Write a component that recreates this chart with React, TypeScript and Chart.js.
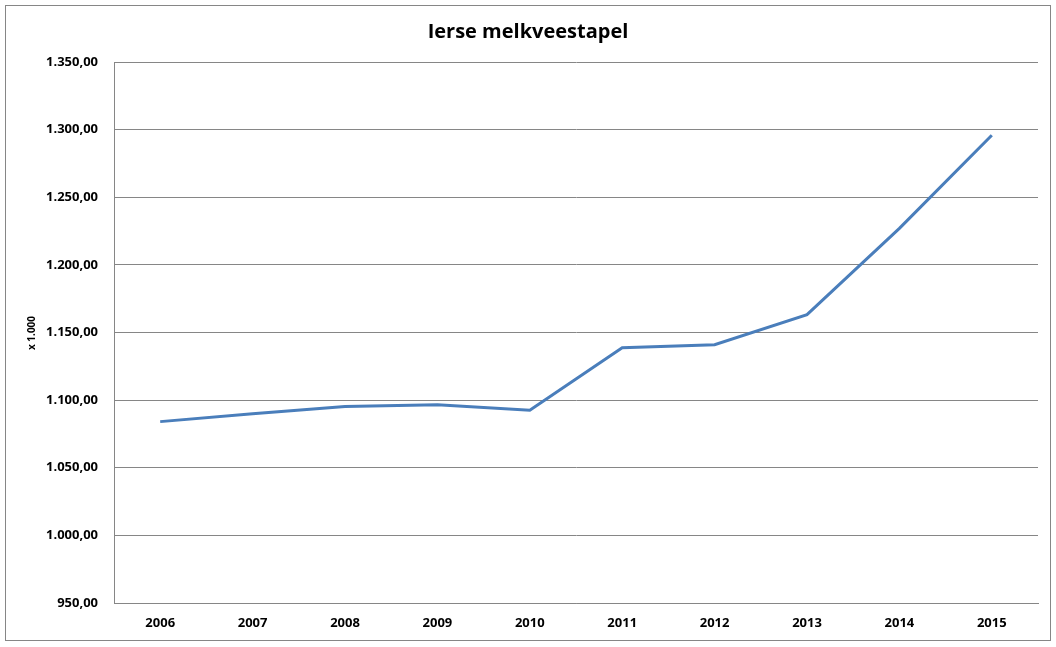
import React, { useEffect, useRef } from "react";
import { Chart, registerables } from "chart.js";

Chart.register(...registerables);

const years = ["2006", "2007", "2008", "2009", "2010", "2011", "2012", "2013", "2014", "2015"];
const herd = [1084.1, 1089.9, 1095.3, 1096.5, 1092.6, 1138.7, 1141.0, 1163.2, 1227.0, 1295.8];
const chartTitle = "Ierse melkveestapel";
const yAxisLabel = "x 1.000";

const FONT = "'Open Sans', 'Liberation Sans', sans-serif";
const GRID = "#868686";

function formatNl(v: number): string {
  const fixed = v.toFixed(2);
  const [intPart, dec] = fixed.split(".");
  const withDots = intPart.replace(/\B(?=(\d{3})+(?!\d))/g, ".");
  return withDots + "," + dec;
}

const framePlugin = {
  id: "frame",
  beforeDraw(chart: any) {
    const ctx = chart.ctx;
    ctx.save();
    ctx.fillStyle = "#ffffff";
    ctx.fillRect(0, 0, chart.width, chart.height);
    ctx.strokeStyle = GRID;
    ctx.lineWidth = 1;
    ctx.strokeRect(5.5, 5.5, chart.width - 11, chart.height - 12);
    ctx.restore();
  },
  afterDraw(chart: any) {
    const ctx = chart.ctx;
    ctx.save();
    ctx.translate(32, 333);
    ctx.rotate(-Math.PI / 2);
    ctx.font = "bold 10px " + FONT;
    ctx.fillStyle = "#000";
    ctx.textAlign = "center";
    ctx.textBaseline = "middle";
    ctx.fillText(yAxisLabel, 0, 0);
    ctx.restore();
  },
};

export default function App() {
  const ref = useRef<HTMLCanvasElement | null>(null);
  useEffect(() => {
    if (!ref.current) return;
    const chart = new Chart(ref.current, {
      type: "line",
      data: {
        labels: years,
        datasets: [
          {
            data: herd,
            borderColor: "#4a7ebb",
            borderWidth: 3,
            pointRadius: 0,
            tension: 0,
            fill: false,
            yAxisID: "y",
          },
        ],
      },
      options: {
        responsive: false,
        animation: false,
        layout: { padding: 0 },
        plugins: {
          legend: { display: false },
          tooltip: { enabled: false },
          title: {
            display: true,
            text: chartTitle,
            color: "#000",
            font: { family: FONT, size: 20, weight: "bold" },
            padding: { top: 20, bottom: 18 },
          },
        },
        scales: {
          x: {
            offset: true,
            grid: { display: false, drawTicks: false },
            border: { color: GRID, width: 1 },
            ticks: {
              color: "#000",
              padding: 12,
              maxRotation: 0,
              font: { family: FONT, size: 13, weight: "bold" },
            },
            afterFit(scale: any) {
              scale.height = 44;
            },
          },
          y: {
            min: 950,
            max: 1350,
            grid: { color: GRID, drawTicks: false },
            border: { color: GRID, width: 1 },
            ticks: {
              stepSize: 50,
              color: "#000",
              padding: 16,
              font: { family: FONT, size: 13, weight: "bold" },
              callback: (v: any) => formatNl(Number(v)),
            },
            afterFit(scale: any) {
              scale.width = 114;
            },
          },
          spacer: {
            position: "right",
            min: 950,
            max: 1350,
            grid: { display: false, drawTicks: false },
            border: { display: false },
            ticks: { display: false },
            afterFit(scale: any) {
              scale.width = 18;
            },
          },
        },
      },
      plugins: [framePlugin],
    });
    return () => chart.destroy();
  }, []);
  return (
    <div style={{ position: "absolute", left: 0, top: 0, width: 1056, height: 647 }}>
      <canvas ref={ref} width={1056} height={647} style={{ display: "block" }} />
    </div>
  );
}
